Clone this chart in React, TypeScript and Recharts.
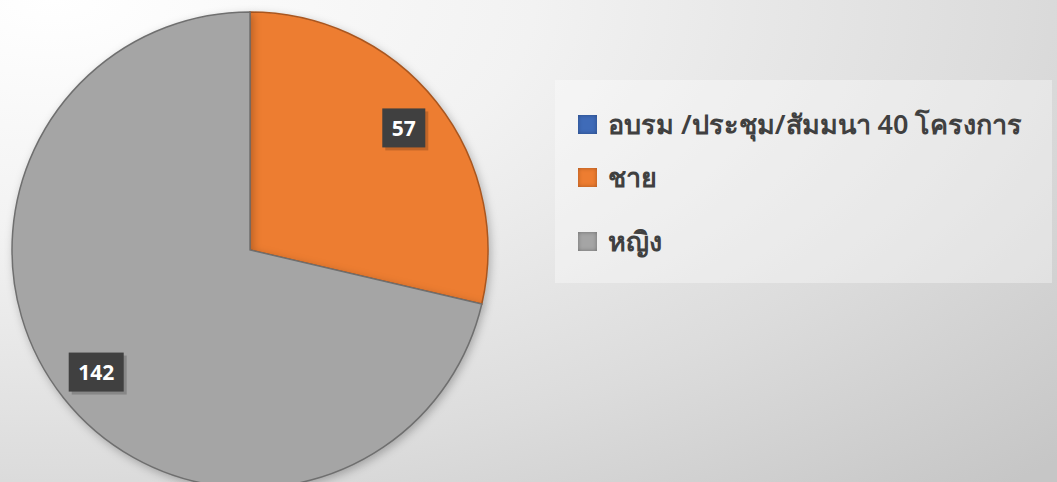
import { PieChart, Pie, Cell, Legend } from 'recharts'

const categories = ['อบรม /ประชุม/สัมมนา 40 โครงการ', 'ชาย', 'หญิง']
const counts = [0, 57, 142]
const colors = ['#3f6bb8', '#ed7d31', '#a5a5a5']
const edgeColors = ['#2a4a82', '#a9561f', '#6f6f6f']

const data = categories.map((name, i) => ({ name, value: counts[i] }))

const RAD = Math.PI / 180

function renderLabel(props: any) {
  const { cx, cy, midAngle, outerRadius, value } = props
  if (!value) return null
  const r = outerRadius * 0.825
  const x = cx + r * Math.cos(-midAngle * RAD)
  const y = cy + r * Math.sin(-midAngle * RAD)
  const w = String(value).length * 12 + 19
  const h = 39
  return (
    <g>
      <rect x={x - w / 2 + 3} y={y - h / 2 + 3} width={w} height={h} fill="rgba(0,0,0,0.18)" />
      <rect x={x - w / 2} y={y - h / 2} width={w} height={h} fill="#404040" />
      <text
        x={x}
        y={y}
        fill="#ffffff"
        textAnchor="middle"
        dominantBaseline="central"
        fontFamily="'Open Sans', 'Noto Sans', sans-serif"
        fontWeight={700}
        fontSize={21}
      >
        {value}
      </text>
    </g>
  )
}

function LegendBox() {
  return (
    <div
      style={{
        width: 497,
        height: 203,
        background: 'rgba(255,255,255,0.35)',
        boxSizing: 'border-box',
        paddingLeft: 23,
        paddingTop: 27,
      }}
    >
      {categories.map((name, i) => (
        <div
          key={name}
          style={{ display: 'flex', alignItems: 'center', height: 34, marginBottom: i === 0 ? 19 : 30 }}
        >
          <span
            style={{
              width: 19,
              height: 19,
              background: colors[i],
              boxShadow: `inset 0 0 4px ${edgeColors[i]}`,
              marginRight: 11,
              display: 'inline-block',
              flexShrink: 0,
            }}
          />
          <span
            style={{
              fontSize: 27,
              fontWeight: 600,
              color: '#404040',
              fontFamily: "'Noto Sans', 'DejaVu Sans', sans-serif",
              whiteSpace: 'nowrap',
            }}
          >
            {name}
          </span>
        </div>
      ))}
    </div>
  )
}

export default function App() {
  return (
    <div
      style={{
        width: 1057,
        height: 482,
        background: 'radial-gradient(ellipse 130% 140% at 5% 0%, #ffffff 0%, #f2f2f2 35%, #dcdcdc 70%, #c6c6c6 100%)',
        overflow: 'hidden',
      }}
    >
      <style>{'body{margin:0}'}</style>
      <PieChart width={1057} height={482} margin={{ top: 0, right: 0, bottom: 0, left: 0 }}>
        <Pie
          data={data}
          dataKey="value"
          nameKey="name"
          cx={250}
          cy={250}
          outerRadius={238}
          startAngle={90}
          endAngle={-270}
          isAnimationActive={false}
          label={renderLabel}
          labelLine={false}
          style={{ filter: 'drop-shadow(2px 3px 4px rgba(0,0,0,0.25))' }}
        >
          {data.map((d, i) => (
            <Cell key={d.name} fill={colors[i]} stroke={edgeColors[i]} strokeWidth={1.5} />
          ))}
        </Pie>
        <Legend
          layout="vertical"
          align="right"
          verticalAlign="top"
          content={() => <LegendBox />}
          wrapperStyle={{ position: 'absolute', left: 555, top: 80, width: 497 }}
        />
      </PieChart>
    </div>
  )
}
